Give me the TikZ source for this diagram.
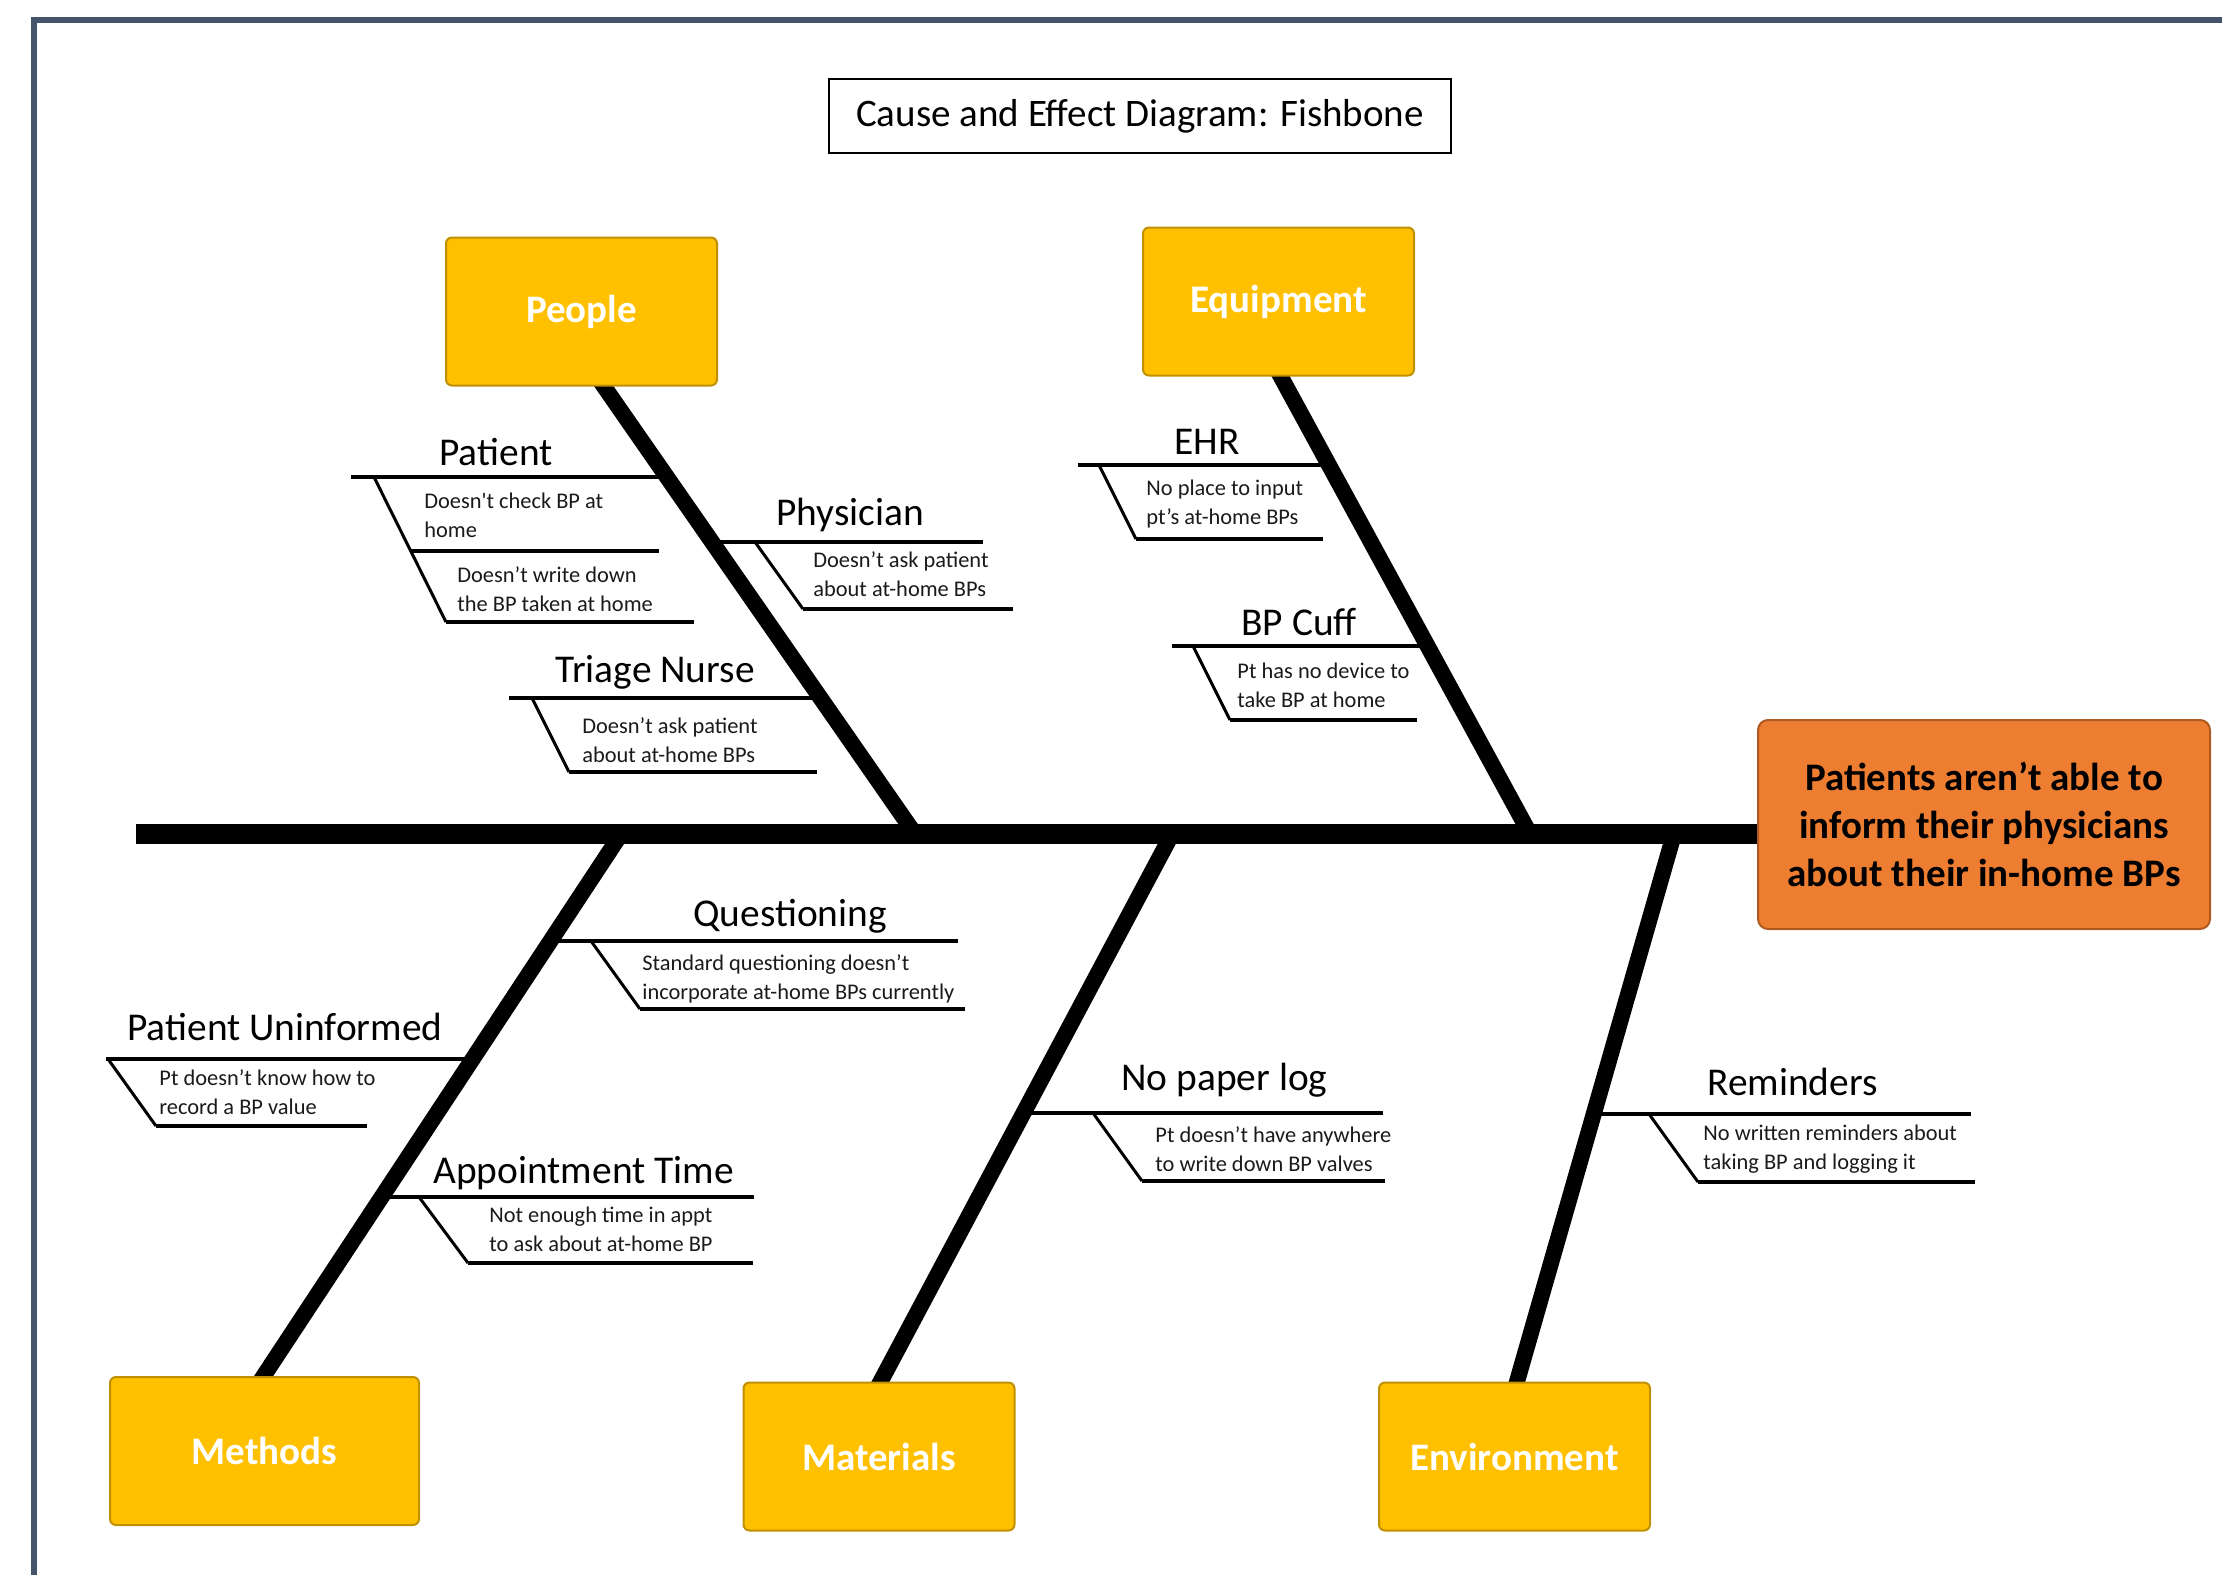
\documentclass[tikz,border=0pt]{standalone}
\usepackage{fontspec}
\setmainfont{Carlito}
\newfontfamily\carlraw{Carlito}[Ligatures=TeXOff]
\usetikzlibrary{backgrounds}
\definecolor{framec}{HTML}{44546A}
\definecolor{gold}{HTML}{FFC000}
\definecolor{golddk}{HTML}{C09000}
\definecolor{orng}{HTML}{ED7D31}
\definecolor{orngdk}{HTML}{AE5A21}
\definecolor{txtc}{HTML}{1A1A1A}
\tikzset{
  catbox/.style={draw=golddk, line width=1pt, fill=gold, rounded corners=3pt, inner sep=0pt,
    minimum width=135.5pt, minimum height=74pt, text=white, font=\fontsize{19.5}{23}\selectfont\bfseries},
  bone/.style={line width=8pt},
  spine/.style={line width=10pt},
  hline/.style={line width=2.2pt},
  sline/.style={line width=1.5pt},
  lbl/.style={anchor=base west, inner sep=0pt, font=\fontsize{19.7}{23}\selectfont},
  txt/.style={anchor=base west, inner sep=0pt, align=left, text=txtc, yshift=-14.8pt,
    font=\fontsize{11.2}{14.8}\selectfont},
}
\begin{document}
\begin{tikzpicture}[x=0.5pt,y=-0.5pt]
\useasboundingbox (0,0) rectangle (2222,1575);
% frame
\draw[framec, line width=2.75pt] (34,1575) -- (34,20) -- (2222,20);
% title
\node[draw, line width=1pt, minimum width=311pt, minimum height=37pt, inner sep=0pt,
  font=\fontsize{19.5}{23}\selectfont] (title) at (1140,116) {Cause and Effect Diagram: Fishbone};
% category boxes
\node[catbox] (people) at (581.5,311.5) {People};
\node[catbox] (equip) at (1278.5,301.5) {Equipment};
\node[catbox, minimum width=154.5pt] (methods) at (264.5,1451) {Methods};
\node[catbox] (materials) at (879,1456.5) {Materials};
\node[catbox] (environ) at (1514.5,1456.5) {Environment};
% effect
\node[draw=orngdk, fill=orng, line width=1pt, rounded corners=5pt, inner sep=0pt,
  minimum width=226pt, minimum height=104.5pt, align=center,
  font=\fontsize{19.5}{24}\selectfont\bfseries] (effect) at (1984,824.5)
  {Patients aren’t able to\\inform their physicians\\about their in-home BPs};
% spine and bones
\coordinate (spL) at (136,834);
\coordinate (pT) at (596,375);  \coordinate (pB) at (915,834);
\coordinate (eT) at (1275,366); \coordinate (eB) at (1530,834);
\coordinate (mT) at (621,834);  \coordinate (mB) at (257,1386);
\coordinate (maT) at (1172,834); \coordinate (maB) at (875,1392);
\coordinate (enT) at (1674,834); \coordinate (enB) at (1514,1392);
\begin{scope}[on background layer]
\draw[spine] (spL) -- (spL -| effect.west);
\draw[bone] (pT) -- (pB);
\draw[bone] (eT) -- (eB);
\draw[bone] (mT) -- (mB);
\draw[bone] (maT) -- (maB);
\draw[bone] (enT) -- (enB);
\end{scope}
% People: Patient
\node[lbl] (patL) at (439,465) {Patient};
\draw[hline] (351,477) coordinate (patA) -- (667,477) coordinate (patJ);
\draw[sline] (374,477) coordinate (patS) -- (446,622) coordinate (patE);
\draw[hline] (410,551) coordinate (patM) -- (659,551);
\draw[hline] (patE) -- (694,622);
\node[txt] (patT1) at (424,508) {Doesn{\carlraw'}t check BP at\\home};
\node[txt] (patT2) at (457,582) {Doesn’t write down\\the BP taken at home};
% People: Physician
\node[lbl] (phyL) at (776,525) {Physician};
\draw[hline] (712,542) coordinate (phyJ) -- (983,542);
\draw[sline] (755,542) coordinate (phyS) -- (803,609) coordinate (phyE);
\draw[hline] (phyE) -- (1013,609);
\node[txt] (phyT) at (813,567) {Doesn’t ask patient\\about at-home BPs};
% People: Triage Nurse
\node[lbl] (triL) at (555,682) {Triage Nurse};
\draw[hline] (509,698) coordinate (triA) -- (820,698) coordinate (triJ);
\draw[sline] (532,698) coordinate (triS) -- (569,772) coordinate (triE);
\draw[hline] (triE) -- (817,772);
\node[txt] (triT) at (582,733) {Doesn’t ask patient\\about at-home BPs};
% Equipment: EHR
\node[lbl] (ehrL) at (1174,454) {EHR};
\draw[hline] (1078,465) coordinate (ehrA) -- (1329,465) coordinate (ehrJ);
\draw[sline] (1099,465) coordinate (ehrS) -- (1136,539) coordinate (ehrE);
\draw[hline] (ehrE) -- (1323,539);
\node[txt] (ehrT) at (1146,495) {No place to input\\pt’s at-home BPs};
% Equipment: BP Cuff
\node[lbl] (cufL) at (1241,635) {BP Cuff};
\draw[hline] (1172,646) coordinate (cufA) -- (1427,646) coordinate (cufJ);
\draw[sline] (1193,646) coordinate (cufS) -- (1230,720) coordinate (cufE);
\draw[hline] (cufE) -- (1417,720);
\node[txt] (cufT) at (1237,678) {Pt has no device to\\take BP at home};
% Methods: Questioning
\node[lbl] (queL) at (693,926) {Questioning};
\draw[hline] (550,941) coordinate (queJ) -- (958,941);
\draw[sline] (591,941) coordinate (queS) -- (640,1009) coordinate (queE);
\draw[hline] (queE) -- (965,1009);
\node[txt] (queT) at (642,970) {Standard questioning doesn’t\\incorporate at-home BPs currently};
% Methods: Patient Uninformed
\node[lbl] (uniL) at (127,1040) {Patient Uninformed};
\draw[hline] (106,1059) coordinate (uniA) -- (473,1059) coordinate (uniJ);
\draw[sline] (108,1059) coordinate (uniS) -- (156,1126) coordinate (uniE);
\draw[hline] (uniE) -- (367,1126);
\node[txt] (uniT) at (159,1085) {Pt doesn’t know how to\\record a BP value};
% Methods: Appointment Time
\node[lbl] (appL) at (433,1183) {Appointment Time};
\draw[hline] (382,1197) coordinate (appJ) -- (754,1197);
\draw[sline] (419,1197) coordinate (appS) -- (468,1263) coordinate (appE);
\draw[hline] (appE) -- (753,1263);
\node[txt] (appT) at (489,1222) {Not enough time in appt\\to ask about at-home BP};
% Materials: No paper log
\node[lbl] (logL) at (1121,1090) {No paper log};
\draw[hline] (1023,1113) coordinate (logJ) -- (1383,1113);
\draw[sline] (1093,1113) coordinate (logS) -- (1142,1181) coordinate (logE);
\draw[hline] (logE) -- (1385,1181);
\node[txt] (logT) at (1155,1142) {Pt doesn’t have anywhere\\to write down BP valves};
% Environment: Reminders
\node[lbl] (remL) at (1707,1095) {Reminders};
\draw[hline] (1594,1114) coordinate (remJ) -- (1971,1114);
\draw[sline] (1649,1114) coordinate (remS) -- (1698,1182) coordinate (remE);
\draw[hline] (remE) -- (1975,1182);
\node[txt] (remT) at (1703,1140) {No written reminders about\\taking BP and logging it};
\end{tikzpicture}
\end{document}
